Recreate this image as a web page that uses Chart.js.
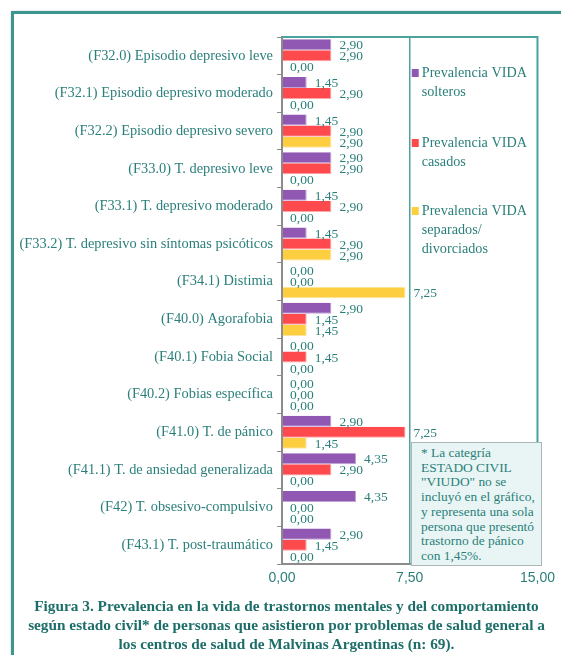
<!DOCTYPE html>
<html>
<head>
<meta charset="utf-8">
<script src="https://cdn.jsdelivr.net/npm/chart.js@4"></script>
<style>
  html, body { margin: 0; padding: 0; background: #fff; }
  body { width: 561px; height: 655px; position: relative; overflow: hidden; }
  #frame {
    position: absolute; left: 11px; top: 11px; width: 600px; height: 700px;
    border: 3px solid #3a968f; box-shadow: 1px 1px 3px rgba(0,0,0,0.35);
  }
  #wrap { position: absolute; left: 0; top: 0; width: 561px; height: 655px; }
  #note {
    position: absolute; left: 411px; top: 442px; width: 120px; height: 119px;
    background: #e8f5f4; border: 1px solid #a9b7b6; padding: 3px 0 0 9px;
    font-family: "Liberation Serif", serif; font-size: 13.4px; line-height: 14.7px; color: #2a7f7a;
    overflow: hidden; box-sizing: content-box;
  }
  #caption {
    position: absolute; left: 12px; top: 596px; width: 549px; text-align: center;
    font-family: "Liberation Serif", serif; font-weight: bold; font-size: 15.3px; line-height: 19px;
    color: #1d6e69; white-space: nowrap;
  }
</style>
</head>
<body>
<div id="frame"></div>
<div id="wrap"><canvas id="chart" width="561" height="655"></canvas></div>
<div id="note">* La categría<br>ESTADO CIVIL<br>"VIUDO" no se<br>incluyó en el gráfico,<br>y representa una sola<br>persona que presentó<br>trastorno de pánico<br>con 1,45%.</div>
<div id="caption">Figura 3. Prevalencia en la vida de trastornos mentales y del comportamiento<br>según estado civil* de personas que asistieron por problemas de salud general a<br>los centros de salud de Malvinas Argentinas (n: 69).</div>
<script>
const categories = [
    '(F32.0) Episodio depresivo leve',
    '(F32.1) Episodio depresivo moderado',
    '(F32.2) Episodio depresivo severo',
    '(F33.0) T. depresivo leve',
    '(F33.1) T. depresivo moderado',
    '(F33.2) T. depresivo sin síntomas psicóticos',
    '(F34.1) Distimia',
    '(F40.0) Agorafobia',
    '(F40.1) Fobia Social',
    '(F40.2) Fobias específica',
    '(F41.0) T. de pánico',
    '(F41.1) T. de ansiedad generalizada',
    '(F42) T. obsesivo-compulsivo',
    '(F43.1) T. post-traumático'
];
const solteros   = [2.90, 1.45, 1.45, 2.90, 1.45, 1.45, 0.00, 2.90, 0.00, 0.00, 2.90, 4.35, 4.35, 2.90];
const casados    = [2.90, 2.90, 2.90, 2.90, 2.90, 2.90, 0.00, 1.45, 1.45, 0.00, 7.25, 2.90, 0.00, 1.45];
const separados  = [0.00, 0.00, 2.90, 0.00, 0.00, 2.90, 7.25, 1.45, 0.00, 0.00, 1.45, 0.00, 0.00, 0.00];
const seriesNames = [
    ['Prevalencia VIDA', 'solteros'],
    ['Prevalencia VIDA', 'casados'],
    ['Prevalencia VIDA', 'separados/', 'divorciados']
];
const xTicks = [0, 7.5, 15];

const TEAL = '#2a7f7a';
const fmt = v => v.toFixed(2).replace('.', ',');

// frame of the plot area (top + right edge)
const plotFrame = {
    id: 'plotFrame',
    beforeDatasetsDraw(chart) {
        const { ctx, chartArea: a } = chart;
        ctx.save();
        ctx.strokeStyle = '#4aa39c';
        ctx.lineWidth = 2;
        ctx.beginPath();
        ctx.moveTo(a.left, a.top);
        ctx.lineTo(a.right, a.top);
        ctx.lineTo(a.right, a.bottom);
        ctx.stroke();
        ctx.restore();
    }
};

// value labels next to the bar ends
const valueLabels = {
    id: 'valueLabels',
    afterDatasetsDraw(chart) {
        const { ctx } = chart;
        ctx.save();
        ctx.font = '13.5px "Liberation Serif", serif';
        ctx.fillStyle = TEAL;
        ctx.textBaseline = 'middle';
        chart.data.datasets.forEach((ds, i) => {
            chart.getDatasetMeta(i).data.forEach((bar, j) => {
                ctx.fillText(fmt(ds.data[j]), bar.x + 8, bar.y + 1);
            });
        });
        ctx.restore();
    }
};

// legend drawn in the right half of the plot
const sideLegend = {
    id: 'sideLegend',
    afterDraw(chart) {
        const { ctx } = chart;
        const x = chart.scales.x.getPixelForValue(7.5);
        const tops = [73, 143, 211];
        ctx.save();
        ctx.font = '14.2px "Liberation Serif", serif';
        ctx.textBaseline = 'middle';
        chart.data.datasets.forEach((ds, i) => {
            ctx.fillStyle = ds.backgroundColor;
            ctx.fillRect(x + 2, tops[i] - 4, 7, 8);
            ctx.fillStyle = TEAL;
            seriesNames[i].forEach((line, k) => {
                ctx.fillText(line, x + 12, tops[i] + k * 19);
            });
        });
        ctx.restore();
    }
};

new Chart(document.getElementById('chart').getContext('2d'), {
    type: 'bar',
    data: {
        labels: categories,
        datasets: [
            { label: 'Prevalencia VIDA solteros', data: solteros, backgroundColor: '#9158b3', borderColor: '#c0a3d6', borderWidth: { top: 0, right: 1, bottom: 1, left: 0 } },
            { label: 'Prevalencia VIDA casados', data: casados, backgroundColor: '#fe4a4c', borderColor: '#fba6a7', borderWidth: { top: 0, right: 1, bottom: 1, left: 0 } },
            { label: 'Prevalencia VIDA separados/divorciados', data: separados, backgroundColor: '#fece41', borderColor: '#fde49b', borderWidth: { top: 0, right: 1, bottom: 1, left: 0 } }
        ]
    },
    options: {
        indexAxis: 'y',
        responsive: false,
        animation: false,
        datasets: { bar: { categoryPercentage: 0.88, barPercentage: 1.0 } },
        layout: { padding: { left: 0, right: 19, top: 37, bottom: 61 } },
        plugins: {
            legend: { display: false },
            tooltip: { enabled: false },
            title: { display: false }
        },
        scales: {
            x: {
                min: 0,
                max: 15,
                afterBuildTicks: scale => { scale.ticks = xTicks.map(v => ({ value: v })); },
                afterFit: scale => { scale.height = 30; },
                ticks: {
                    callback: v => fmt(v),
                    color: TEAL,
                    font: { family: '"Liberation Sans", Arial, sans-serif', size: 14 },
                    padding: 6,
                    maxRotation: 0
                },
                grid: {
                    drawTicks: false,
                    color: ctx => (ctx.tick && ctx.tick.value === 7.5) ? '#4aa39c' : 'rgba(0,0,0,0)',
                    lineWidth: 1.5
                },
                border: { color: '#8c8c8c', width: 2 }
            },
            y: {
                afterFit: scale => { scale.width = 282; },
                ticks: {
                    color: TEAL,
                    font: { family: '"Liberation Serif", serif', size: 14.4 },
                    padding: 4
                },
                grid: {
                    offset: true,
                    drawOnChartArea: false,
                    tickLength: 5,
                    color: '#8c8c8c'
                },
                border: { color: '#8c8c8c', width: 2 }
            }
        }
    },
    plugins: [plotFrame, valueLabels, sideLegend]
});
</script>
</body>
</html>
